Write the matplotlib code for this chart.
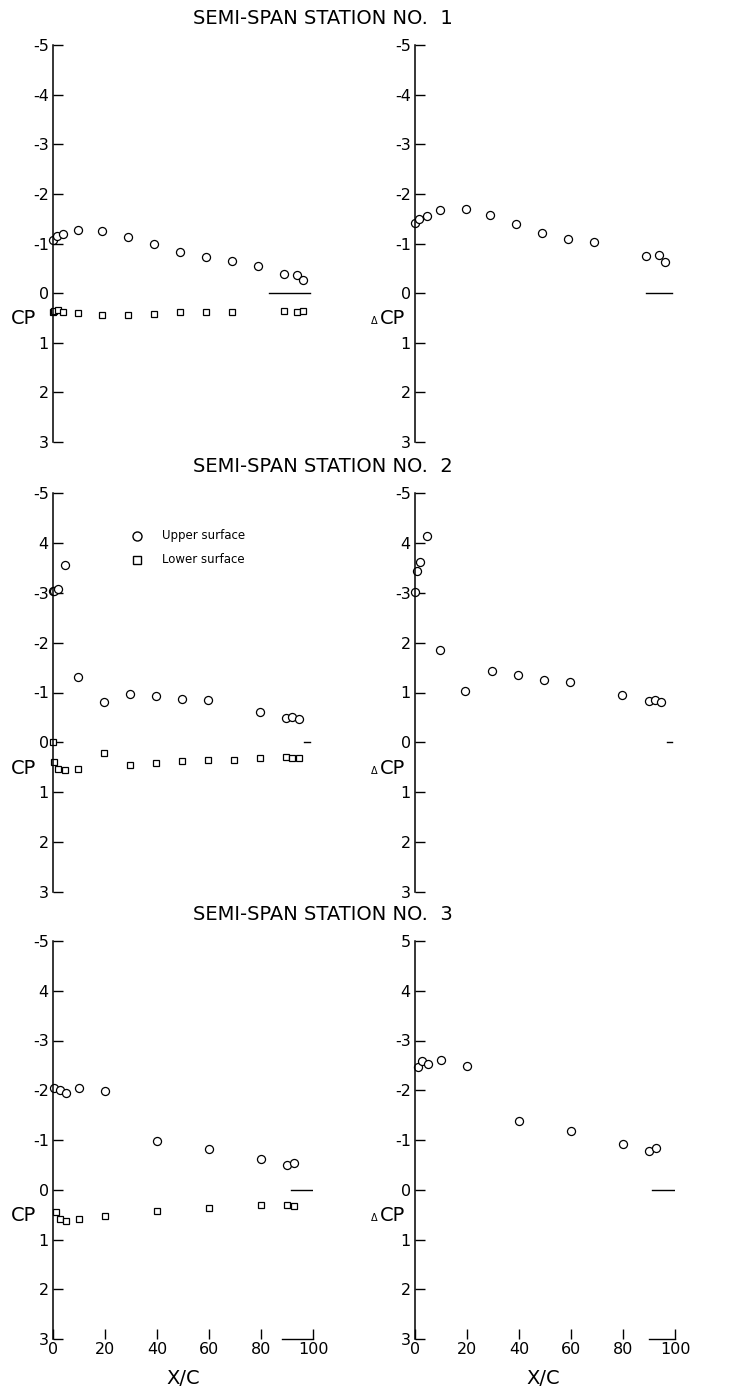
import matplotlib
matplotlib.use("Agg")
from matplotlib import pyplot as plt
from matplotlib.transforms import blended_transform_factory

plt.rcParams["font.family"] = ["DejaVu Sans"]
plt.rcParams["axes.unicode_minus"] = False

W, H = 736, 1391

# station 1
s1_x_up = [0, 1.5, 4, 9.5, 19, 29, 39, 49, 59, 69, 79, 89, 94, 96]
s1_cp_up = [-1.07, -1.15, -1.20, -1.28, -1.26, -1.13, -0.98, -0.83, -0.72, -0.65, -0.54, -0.39, -0.36, -0.26]
s1_x_lo = [0, 0.5, 2, 4, 9.5, 19, 29, 39, 49, 59, 69, 89, 94, 96]
s1_cp_lo = [0.38, 0.36, 0.34, 0.39, 0.41, 0.45, 0.44, 0.42, 0.39, 0.38, 0.39, 0.36, 0.39, 0.36]
s1_x_d = [0, 1.5, 4.5, 9.5, 19.5, 29, 39, 49, 59, 69, 89, 94, 96]
s1_dcp = [-1.42, -1.49, -1.56, -1.67, -1.69, -1.57, -1.39, -1.21, -1.09, -1.03, -0.74, -0.76, -0.62]

# station 2
s2_x_up = [0, 0.5, 2, 4.5, 9.5, 19.5, 29.5, 39.5, 49.5, 59.5, 79.5, 89.5, 92, 94.5]
s2_cp_up = [-3.03, -3.03, -3.07, -3.55, -1.31, -0.80, -0.97, -0.92, -0.86, -0.84, -0.60, -0.49, -0.51, -0.46]
s2_x_lo = [0, 0.5, 2, 4.5, 9.5, 19.5, 29.5, 39.5, 49.5, 59.5, 69.5, 79.5, 89.5, 92, 94.5]
s2_cp_lo = [0.0, 0.39, 0.54, 0.56, 0.54, 0.21, 0.45, 0.42, 0.37, 0.36, 0.36, 0.32, 0.30, 0.32, 0.31]
s2_x_d = [0, 0.8, 2.1, 4.8, 9.6, 19.4, 29.5, 39.5, 49.5, 59.5, 79.8, 89.9, 92.2, 94.8]
s2_dcp = [-3.01, -3.44, -3.61, -4.13, -1.85, -1.03, -1.44, -1.35, -1.25, -1.22, -0.94, -0.82, -0.85, -0.80]

# station 3
s3_x_up = [0.5, 2.5, 5, 10, 20, 40, 60, 80, 90, 92.5]
s3_cp_up = [-2.05, -2.01, -1.94, -2.04, -1.99, -0.97, -0.81, -0.61, -0.49, -0.53]
s3_x_lo = [1, 2.5, 5, 10, 20, 40, 60, 80, 90, 92.5]
s3_cp_lo = [0.45, 0.59, 0.62, 0.58, 0.52, 0.42, 0.37, 0.30, 0.30, 0.32]
s3_x_d = [1, 2.5, 5, 10, 20, 40, 60, 80, 90, 92.5]
s3_dcp = [-2.47, -2.58, -2.53, -2.60, -2.48, -1.38, -1.18, -0.91, -0.78, -0.84]

# trailing-edge segments at cp = 0 (left panels, right panels)
te_left = [(83, 99), (96.5, 99), (91.5, 100)]
te_right = [(89, 99), (97, 99), (91, 100)]

y_ticks = [-5, -4, -3, -2, -1, 0, 1, 2, 3]
ylabels_left = [
    ["-5", "-4", "-3", "-2", "-1", "0", "1", "2", "3"],
    ["-5", "4", "-3", "-2", "-1", "0", "1", "2", "3"],
    ["-5", "4", "-3", "-2", "-1", "0", "1", "2", "3"],
]
ylabels_right = [
    ["-5", "-4", "-3", "-2", "-1", "0", "1", "2", "3"],
    ["-5", "4", "-3", "2", "1", "0", "1", "2", "3"],
    ["5", "4", "-3", "-2", "-1", "0", "1", "2", "3"],
]
x_ticks = [0, 20, 40, 60, 80, 100]
titles = ["SEMI-SPAN STATION NO.  1", "SEMI-SPAN STATION NO.  2", "SEMI-SPAN STATION NO.  3"]

stations = [
    (s1_x_up, s1_cp_up, s1_x_lo, s1_cp_lo, s1_x_d, s1_dcp),
    (s2_x_up, s2_cp_up, s2_x_lo, s2_cp_lo, s2_x_d, s2_dcp),
    (s3_x_up, s3_cp_up, s3_x_lo, s3_cp_lo, s3_x_d, s3_dcp),
]

rows = [(45, 442), (493, 892), (941, 1339)]
title_y = [18, 467, 914]
cols = [53, 415]

fig = plt.figure(figsize=(W / 100, H / 100), dpi=100)


def make_axes(left_px, top_px, bottom_px, width_px=260):
    return fig.add_axes([left_px / W, (H - bottom_px) / H, width_px / W, (bottom_px - top_px) / H])


def style_axes(ax, labels, bottom_row):
    ax.set_xlim(0, 100)
    ax.set_ylim(3, -5)
    for s in ["top", "right", "bottom"]:
        ax.spines[s].set_visible(False)
    ax.spines["left"].set_linewidth(1.1)
    ax.set_yticks(y_ticks)
    ax.set_yticklabels(labels)
    ax.tick_params(axis="y", direction="in", length=7, width=1, pad=3, labelsize=11.5)
    if bottom_row:
        ax.set_xticks(x_ticks)
        ax.set_xticklabels([str(v) for v in x_ticks])
        ax.tick_params(axis="x", direction="in", length=7, width=1, pad=2, labelsize=11.5)
    else:
        ax.set_xticks([])
    ax.patch.set_alpha(0)


circ = dict(marker="o", ms=5.8, mfc="white", mec="black", mew=0.9, ls="none", clip_on=False)
sq = dict(marker="s", ms=4.8, mfc="white", mec="black", mew=0.9, ls="none", clip_on=False)

for i, (xu, cu, xl, cl, xd, dc) in enumerate(stations):
    top, bot = rows[i]
    last = i == 2

    # Cp panel
    ax = make_axes(cols[0], top, bot)
    style_axes(ax, ylabels_left[i], last)
    ax.plot(xu, cu, **circ)
    ax.plot(xl, cl, **sq)
    ax.plot(te_left[i], [0, 0], color="black", lw=1)
    if last:
        ax.plot([88, 100], [3, 3], color="black", lw=1, clip_on=False)
    tr = blended_transform_factory(ax.transAxes, ax.transData)
    ax.text(-0.115, 0.63, "CP", transform=tr, ha="center", va="baseline", fontsize=14)
    if i == 1:
        ax.plot([32.3], [-4.14], marker="o", ms=6.5, mfc="white", mec="black", mew=1)
        ax.plot([32.3], [-3.66], marker="s", ms=5.5, mfc="white", mec="black", mew=1)
        ax.text(42, -4.14, "Upper surface", ha="left", va="center", fontsize=8.5)
        ax.text(42, -3.66, "Lower surface", ha="left", va="center", fontsize=8.5)

    # delta Cp panel
    ax = make_axes(cols[1], top, bot)
    style_axes(ax, ylabels_right[i], last)
    ax.plot(xd, dc, **circ)
    ax.plot(te_right[i], [0, 0], color="black", lw=1)
    if last:
        ax.plot([90, 100], [3, 3], color="black", lw=1, clip_on=False)
    tr = blended_transform_factory(ax.transAxes, ax.transData)
    ax.text(-0.085, 0.63, "CP", transform=tr, ha="center", va="baseline", fontsize=14)
    ax.text(-0.155, 0.63, "\u0394", transform=tr, ha="center", va="baseline", fontsize=7)

    fig.text(323 / W, 1 - title_y[i] / H, titles[i], ha="center", va="center", fontsize=14)

fig.text(183 / W, 1 - 1378 / H, "X/C", ha="center", va="center", fontsize=14)
fig.text(543 / W, 1 - 1378 / H, "X/C", ha="center", va="center", fontsize=14)

fig.savefig("out.png", dpi=100)
